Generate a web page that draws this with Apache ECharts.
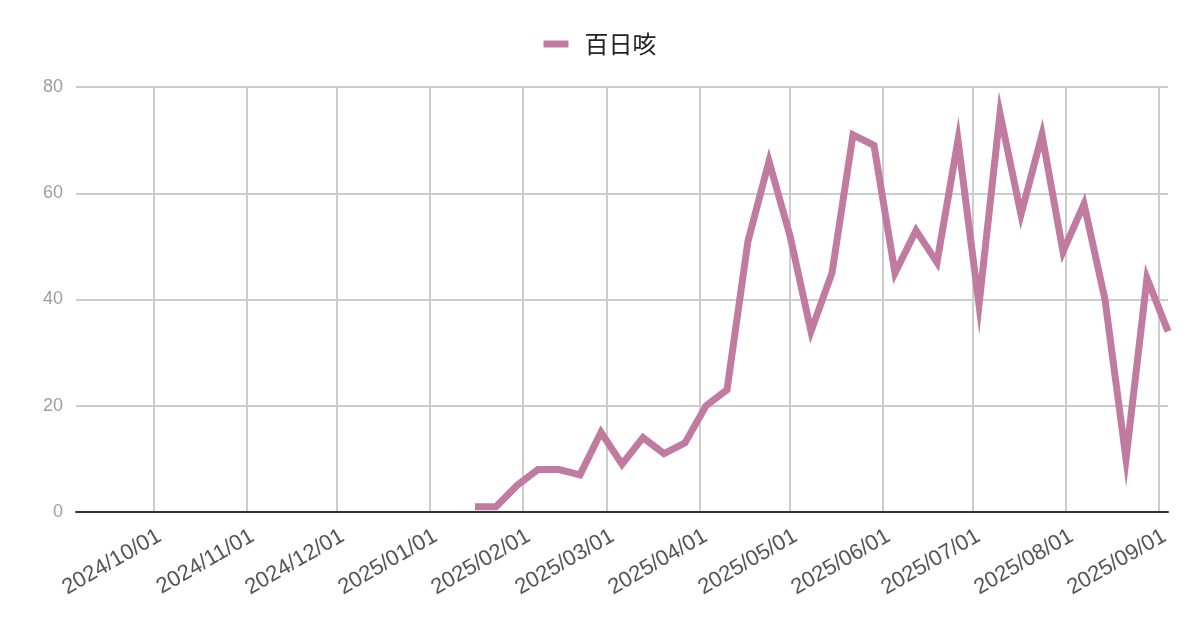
<!DOCTYPE html>
<html>
<head>
<meta charset="utf-8">
<script src="https://cdn.jsdelivr.net/npm/echarts@6/dist/echarts.min.js"></script>
<style>html,body{margin:0;padding:0;background:#fff;}#c{width:1200px;height:626px;}</style>
</head>
<body>
<div id="c"></div>
<script>
var seriesName = '百日咳';
var dates = ['2025-01-16','2025-01-23','2025-01-30','2025-02-06','2025-02-13','2025-02-20','2025-02-27',
  '2025-03-06','2025-03-13','2025-03-20','2025-03-27','2025-04-03','2025-04-10','2025-04-17','2025-04-24',
  '2025-05-01','2025-05-08','2025-05-15','2025-05-22','2025-05-29','2025-06-05','2025-06-12','2025-06-19',
  '2025-06-26','2025-07-03','2025-07-10','2025-07-17','2025-07-24','2025-07-31','2025-08-07','2025-08-14',
  '2025-08-21','2025-08-28','2025-09-04'];
var values = [1,1,5,8,8,7,15,9,14,11,13,20,23,51,66,52,34,45,71,69,45,53,47,70,39,75,56,71,49,58,40,10,44,34];
var xRange = ['2024-09-05','2025-09-04'];
var yTicks = [0,20,40,60,80];

var chart = echarts.init(document.getElementById('c'));
chart.setOption({
  animation: false,
  legend: {
    data: [seriesName],
    top: 27,
    left: 'center',
    icon: 'rect',
    itemWidth: 25,
    itemHeight: 7,
    textStyle: { fontSize: 24, color: '#222', fontFamily: '"Noto Sans CJK JP", sans-serif', padding: [0,0,0,11] }
  },
  grid: { left: 76, right: 32, top: 87, bottom: 114, containLabel: false },
  xAxis: {
    type: 'time',
    min: xRange[0],
    max: xRange[1],
    minInterval: 28*86400000,
    maxInterval: 31*86400000,
    axisLine: { lineStyle: { color: '#333', width: 2 } },
    axisTick: { show: false },
    splitLine: { show: true, showMinLine: false, showMaxLine: false, lineStyle: { color: '#cccccc', width: 2 } },
    axisLabel: {
      rotate: 30,
      margin: 13,
      fontSize: 22,
      color: '#555',
      verticalAlign: 'top',
      fontFamily: 'Liberation Sans, Arial, sans-serif',
      showMinLabel: false,
      showMaxLabel: false,
      formatter: function (v) { return echarts.time.format(v, '{yyyy}/{MM}/{dd}', false); }
    }
  },
  yAxis: {
    type: 'value',
    min: yTicks[0],
    max: yTicks[yTicks.length-1],
    interval: yTicks[1]-yTicks[0],
    axisLine: { show: false },
    axisTick: { show: false },
    splitLine: { lineStyle: { color: '#cccccc', width: 2 } },
    axisLabel: { fontSize: 18, color: '#9e9e9e', margin: 13, fontFamily: 'Liberation Sans, Arial, sans-serif' }
  },
  series: [{
    name: seriesName,
    type: 'line',
    data: dates.map(function (d, i) { return [d, values[i]]; }),
    showSymbol: false,
    symbol: 'none',
    lineStyle: { color: '#c27ba0', width: 7, join: 'miter' },
    itemStyle: { color: '#c27ba0' }
  }]
});
</script>
</body>
</html>
